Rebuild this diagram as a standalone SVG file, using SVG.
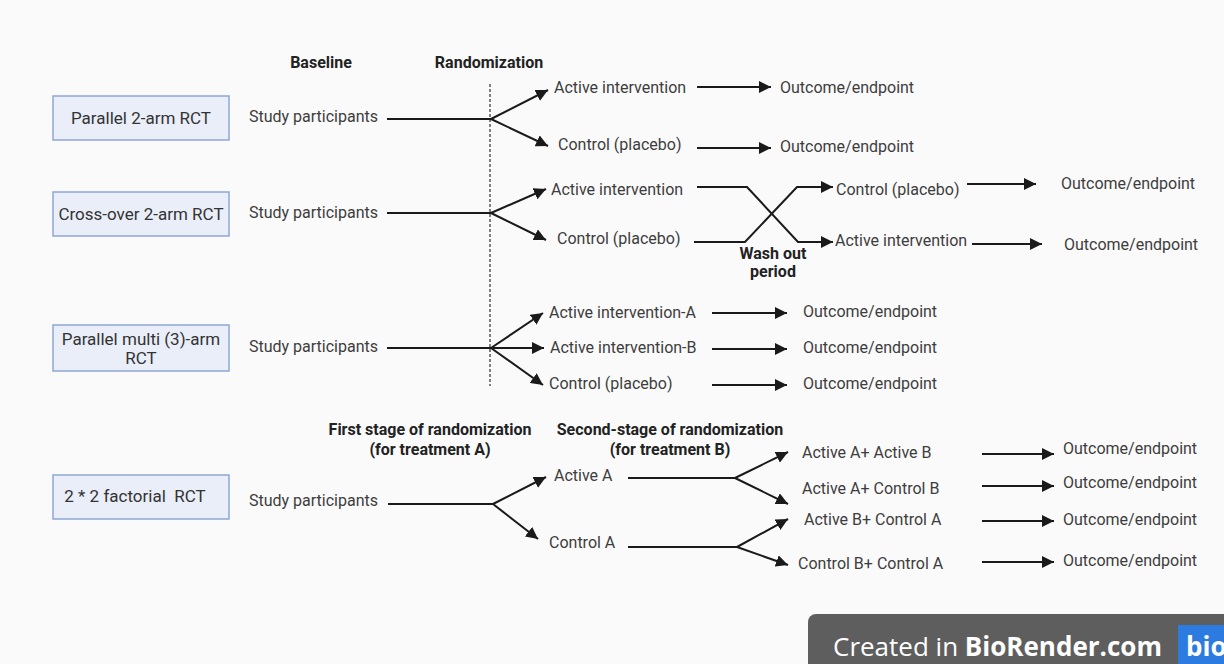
<svg xmlns="http://www.w3.org/2000/svg" width="1224" height="664" viewBox="0 0 1224 664">
<defs>
<marker id="ah" markerUnits="userSpaceOnUse" markerWidth="14" markerHeight="12" refX="12" refY="6" orient="auto">
<path d="M0,0 L12,6 L0,12 Z" fill="#1a1a1a"/>
</marker>
<style>
.t{font-family:Roboto,"Liberation Sans",sans-serif;font-size:16px;fill:#3d3d3d}
.h{font-family:Roboto,"Liberation Sans",sans-serif;font-size:16px;font-weight:bold;fill:#222}
.box{fill:#e9eef9;stroke:#8ea6d6;stroke-width:1.5}
.bt{font-family:Roboto,"Liberation Sans",sans-serif;font-size:17px;fill:#333;text-anchor:middle}
.ln{fill:none;stroke:#1a1a1a;stroke-width:2}
.ar{fill:none;stroke:#1a1a1a;stroke-width:2;marker-end:url(#ah)}
</style>
</defs>
<rect width="1224" height="664" fill="#fafafa"/>

<g id="headers">
<text class="h" x="321" y="68" text-anchor="middle">Baseline</text>
<text class="h" x="489" y="68" text-anchor="middle">Randomization</text>
<text class="h" x="430" y="435" text-anchor="middle">First stage of randomization</text>
<text class="h" x="430" y="455" text-anchor="middle">(for treatment A)</text>
<text class="h" x="670" y="435" text-anchor="middle">Second-stage of randomization</text>
<text class="h" x="670" y="455" text-anchor="middle">(for treatment B)</text>
<text class="h" x="773" y="259" text-anchor="middle">Wash out</text>
<text class="h" x="773" y="277" text-anchor="middle">period</text>
</g>

<g id="box-parallel"><rect class="box" x="53" y="96" width="176" height="44"/><text class="bt" x="141" y="124">Parallel 2-arm RCT</text></g>
<g id="box-crossover"><rect class="box" x="53" y="192" width="176" height="44"/><text class="bt" x="141" y="220">Cross-over 2-arm RCT</text></g>
<g id="box-multi"><rect class="box" x="53" y="325" width="176" height="46"/><text class="bt" x="141" y="345">Parallel multi (3)-arm</text><text class="bt" x="141" y="364">RCT</text></g>
<g id="box-factorial"><rect class="box" x="53" y="475" width="176" height="44"/><text class="bt" x="135" y="502" xml:space="preserve" style="white-space:pre">2 * 2 factorial  RCT</text></g>

<g id="labels">
<text class="t" x="249" y="122">Study participants</text>
<text class="t" x="554" y="93">Active intervention</text>
<text class="t" x="558" y="150">Control (placebo)</text>
<text class="t" x="780" y="93">Outcome/endpoint</text>
<text class="t" x="780" y="152">Outcome/endpoint</text>

<text class="t" x="249" y="218">Study participants</text>
<text class="t" x="551" y="195">Active intervention</text>
<text class="t" x="557" y="244">Control (placebo)</text>
<text class="t" x="836" y="195">Control (placebo)</text>
<text class="t" x="835" y="246">Active intervention</text>
<text class="t" x="1061" y="189">Outcome/endpoint</text>
<text class="t" x="1064" y="250">Outcome/endpoint</text>

<text class="t" x="249" y="352">Study participants</text>
<text class="t" x="549" y="318">Active intervention-A</text>
<text class="t" x="550" y="353">Active intervention-B</text>
<text class="t" x="549" y="389">Control (placebo)</text>
<text class="t" x="803" y="317">Outcome/endpoint</text>
<text class="t" x="803" y="353">Outcome/endpoint</text>
<text class="t" x="803" y="389">Outcome/endpoint</text>

<text class="t" x="249" y="506">Study participants</text>
<text class="t" x="554" y="481">Active A</text>
<text class="t" x="549" y="548">Control A</text>
<text class="t" x="802" y="458">Active A+ Active B</text>
<text class="t" x="802" y="494">Active A+ Control B</text>
<text class="t" x="804" y="525">Active B+ Control A</text>
<text class="t" x="798" y="569">Control B+ Control A</text>
<text class="t" x="1063" y="454">Outcome/endpoint</text>
<text class="t" x="1063" y="488">Outcome/endpoint</text>
<text class="t" x="1063" y="525">Outcome/endpoint</text>
<text class="t" x="1063" y="566">Outcome/endpoint</text>
</g>

<g id="connectors">
<line x1="490" y1="84" x2="490" y2="386" stroke="#555" stroke-width="1.5" stroke-dasharray="3,2"/>

<path class="ln" d="M387,119 H491"/>
<path class="ar" d="M491,119 L548,90"/>
<path class="ar" d="M491,119 L548,146"/>
<path class="ar" d="M697,87 H771"/>
<path class="ar" d="M697,148 H771"/>

<path class="ln" d="M387,213 H491"/>
<path class="ar" d="M491,213 L546,189"/>
<path class="ar" d="M491,213 L546,240"/>
<path class="ar" d="M697,187 H747 L798,242 H833"/>
<path class="ar" d="M694,242 H745 L797,187 H833"/>
<path class="ar" d="M967,184 H1036"/>
<path class="ar" d="M972,244 H1042"/>

<path class="ln" d="M387,348 H491"/>
<path class="ar" d="M491,348 L543,313"/>
<path class="ar" d="M491,348 H544"/>
<path class="ar" d="M491,348 L543,385"/>
<path class="ar" d="M712,313 H787"/>
<path class="ar" d="M712,349 H787"/>
<path class="ar" d="M712,385 H787"/>

<path class="ln" d="M388,504 H493"/>
<path class="ar" d="M493,504 L546,477"/>
<path class="ar" d="M493,504 L538,539"/>
<path class="ln" d="M628,478 H735"/>
<path class="ar" d="M735,478 L788,452"/>
<path class="ar" d="M735,478 L788,504"/>
<path class="ln" d="M628,547 H737"/>
<path class="ar" d="M737,547 L788,519"/>
<path class="ar" d="M737,547 L788,565"/>
<path class="ar" d="M982,454 H1054"/>
<path class="ar" d="M982,486 H1054"/>
<path class="ar" d="M982,521 H1054"/>
<path class="ar" d="M982,562 H1054"/>
</g>

<g id="badge">
<rect x="808" y="614" width="440" height="70" rx="8" fill="#5e5e5e"/>
<rect x="1178" y="625" width="60" height="45" fill="#2c7be0"/>
<text x="833" y="656" font-family="'Open Sans','Noto Sans',sans-serif" font-size="26" fill="#ffffff">Created in <tspan font-weight="bold">BioRender.com</tspan></text>
<text x="1186" y="656" font-family="'Open Sans','Noto Sans',sans-serif" font-size="26" font-weight="bold" fill="#ffffff">bio</text>
</g>
</svg>
